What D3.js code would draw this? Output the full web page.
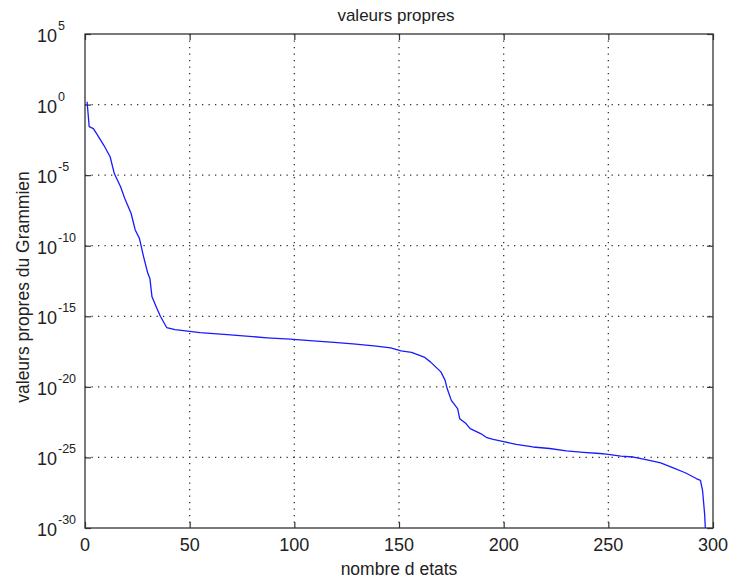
<!DOCTYPE html>
<html>
<head>
<meta charset="utf-8">
<script src="https://cdn.jsdelivr.net/npm/d3@7"></script>
<style>
  html, body { margin: 0; padding: 0; background: #fff; }
  svg { display: block; }
  text { font-family: "Liberation Sans", Arial, sans-serif; fill: #222; }
</style>
</head>
<body>
<svg id="chart" width="729" height="581"></svg>
<script>
// ---- data ----
const titleText = "valeurs propres";
const xLabelText = "nombre d etats";
const yLabelText = "valeurs propres du Grammien";

const xTicks = [0, 50, 100, 150, 200, 250, 300];
const yTickExponents = [5, 0, -5, -10, -15, -20, -25, -30];

// state index (x) and eigenvalue (y), estimated from the curve
const stateIndex = [1, 2, 4, 6, 9, 12, 14, 17, 19, 22, 24, 26, 28, 30, 31, 32, 34, 36, 39, 43,
  49, 55, 68, 77, 87, 98, 109, 119, 128, 138, 146, 151, 156, 162, 165, 170, 172, 173, 175, 178,
  179, 182, 184, 189, 192, 195, 200, 206, 214, 222, 230, 238, 246, 249, 256, 262, 268, 275, 281, 287,
  292, 294, 295, 296, 297];
const eigenValues = [1.6e0, 2.7e-2, 2.0e-2, 6.9e-3, 1.3e-3, 2.0e-4, 1.3e-5, 1.5e-6, 2.2e-7, 2.0e-8,
  1.3e-9, 3.3e-10, 1.6e-11, 1.1e-12, 4.8e-13, 2.4e-14, 4.7e-15, 1.0e-15, 1.6e-16, 1.15e-16,
  8.9e-17, 6.9e-17, 5.1e-17, 3.9e-17, 3.0e-17, 2.4e-17, 1.8e-17, 1.4e-17, 1.1e-17, 7.9e-18,
  5.8e-18, 3.5e-18, 2.8e-18, 1.3e-18, 5.9e-19, 1.15e-19, 3.0e-20, 7.6e-21, 1.1e-21, 2.9e-22,
  5.6e-23, 2.5e-23, 1.1e-23, 4.9e-24, 2.5e-24, 1.9e-24, 1.3e-24, 8.5e-25, 5.5e-25, 4.3e-25,
  2.9e-25, 2.3e-25, 1.9e-25, 1.7e-25, 1.25e-25, 1.07e-25, 7.1e-26, 4.1e-26, 1.8e-26, 7.9e-27,
  3.2e-27, 2.4e-27, 4.7e-28, 1.0e-29, 1.0e-32];

// ---- layout ----
const svg = d3.select("#chart");
const mLeft = 85, mRight = 713, mTop = 34, mBottom = 528;

const x = d3.scaleLinear().domain([0, 300]).range([mLeft, mRight]);
const y = d3.scaleLog().domain([1e5, 1e-30]).range([mTop, mBottom]);

// clip
svg.append("defs").append("clipPath").attr("id", "clip")
  .append("rect").attr("x", mLeft).attr("y", mTop).attr("width", mRight - mLeft).attr("height", mBottom - mTop);

// grid
const gridColor = "#333";
const grid = svg.append("g");
grid.selectAll("line.gx").data(xTicks.filter(d => d > 0 && d < 300)).join("line")
  .attr("x1", d => x(d)).attr("x2", d => x(d)).attr("y1", mTop).attr("y2", mBottom)
  .attr("stroke", gridColor).attr("stroke-width", 1.3).attr("stroke-dasharray", "1.3 5.2");
grid.selectAll("line.gy").data(yTickExponents.filter(e => e < 5 && e > -30)).join("line")
  .attr("y1", e => y(Math.pow(10, e))).attr("y2", e => y(Math.pow(10, e)))
  .attr("x1", mLeft).attr("x2", mRight)
  .attr("stroke", gridColor).attr("stroke-width", 1.3).attr("stroke-dasharray", "1.3 5.2");

// axes with inward ticks (MATLAB style) on all four sides
const tickLen = 6;
const axisStyle = g => {
  g.select(".domain").remove();
  g.selectAll(".tick line").attr("stroke", "#333").attr("stroke-width", 1.2);
  g.selectAll(".tick text").remove();
};
const yTickVals = yTickExponents.map(e => Math.pow(10, e));
svg.append("g").attr("transform", `translate(0,${mBottom})`)
  .call(d3.axisBottom(x).tickValues(xTicks).tickSize(-tickLen).tickFormat("")).call(axisStyle);
svg.append("g").attr("transform", `translate(0,${mTop})`)
  .call(d3.axisTop(x).tickValues(xTicks).tickSize(-tickLen).tickFormat("")).call(axisStyle);
svg.append("g").attr("transform", `translate(${mLeft},0)`)
  .call(d3.axisLeft(y).tickValues(yTickVals).tickSize(-tickLen).tickFormat("")).call(axisStyle);
svg.append("g").attr("transform", `translate(${mRight},0)`)
  .call(d3.axisRight(y).tickValues(yTickVals).tickSize(-tickLen).tickFormat("")).call(axisStyle);

// line
const line = d3.line().x((d, i) => x(stateIndex[i])).y(d => y(d));
svg.append("path").datum(eigenValues)
  .attr("clip-path", "url(#clip)")
  .attr("d", line).attr("fill", "none").attr("stroke", "#1a1aff").attr("stroke-width", 1.3)
  .attr("stroke-linejoin", "round");

// box
svg.append("rect").attr("x", mLeft).attr("y", mTop).attr("width", mRight - mLeft).attr("height", mBottom - mTop)
  .attr("fill", "none").attr("stroke", "#333").attr("stroke-width", 1.3);

// x tick labels
svg.append("g").selectAll("text").data(xTicks).join("text")
  .attr("x", d => x(d)).attr("y", 551).attr("text-anchor", "middle")
  .attr("font-size", 18).text(d => d);

// y tick labels: 10 with superscript exponent
const yl = svg.append("g").selectAll("g").data(yTickExponents).join("g")
  .attr("transform", e => `translate(0,${y(Math.pow(10, e))})`);
yl.append("text").attr("x", 57).attr("y", 8).attr("text-anchor", "end")
  .attr("font-size", 18).text("10");
yl.append("text").attr("x", 58).attr("y", -4).attr("text-anchor", "start")
  .attr("font-size", 12.5).text(e => String(e));

// title & labels
svg.append("text").attr("x", 396).attr("y", 21).attr("text-anchor", "middle")
  .attr("font-size", 17).text(titleText);
svg.append("text").attr("x", 399).attr("y", 575).attr("text-anchor", "middle")
  .attr("font-size", 17.5).text(xLabelText);
svg.append("text").attr("transform", "translate(29,287) rotate(-90)").attr("text-anchor", "middle")
  .attr("font-size", 17.5).text(yLabelText);
</script>
</body>
</html>
